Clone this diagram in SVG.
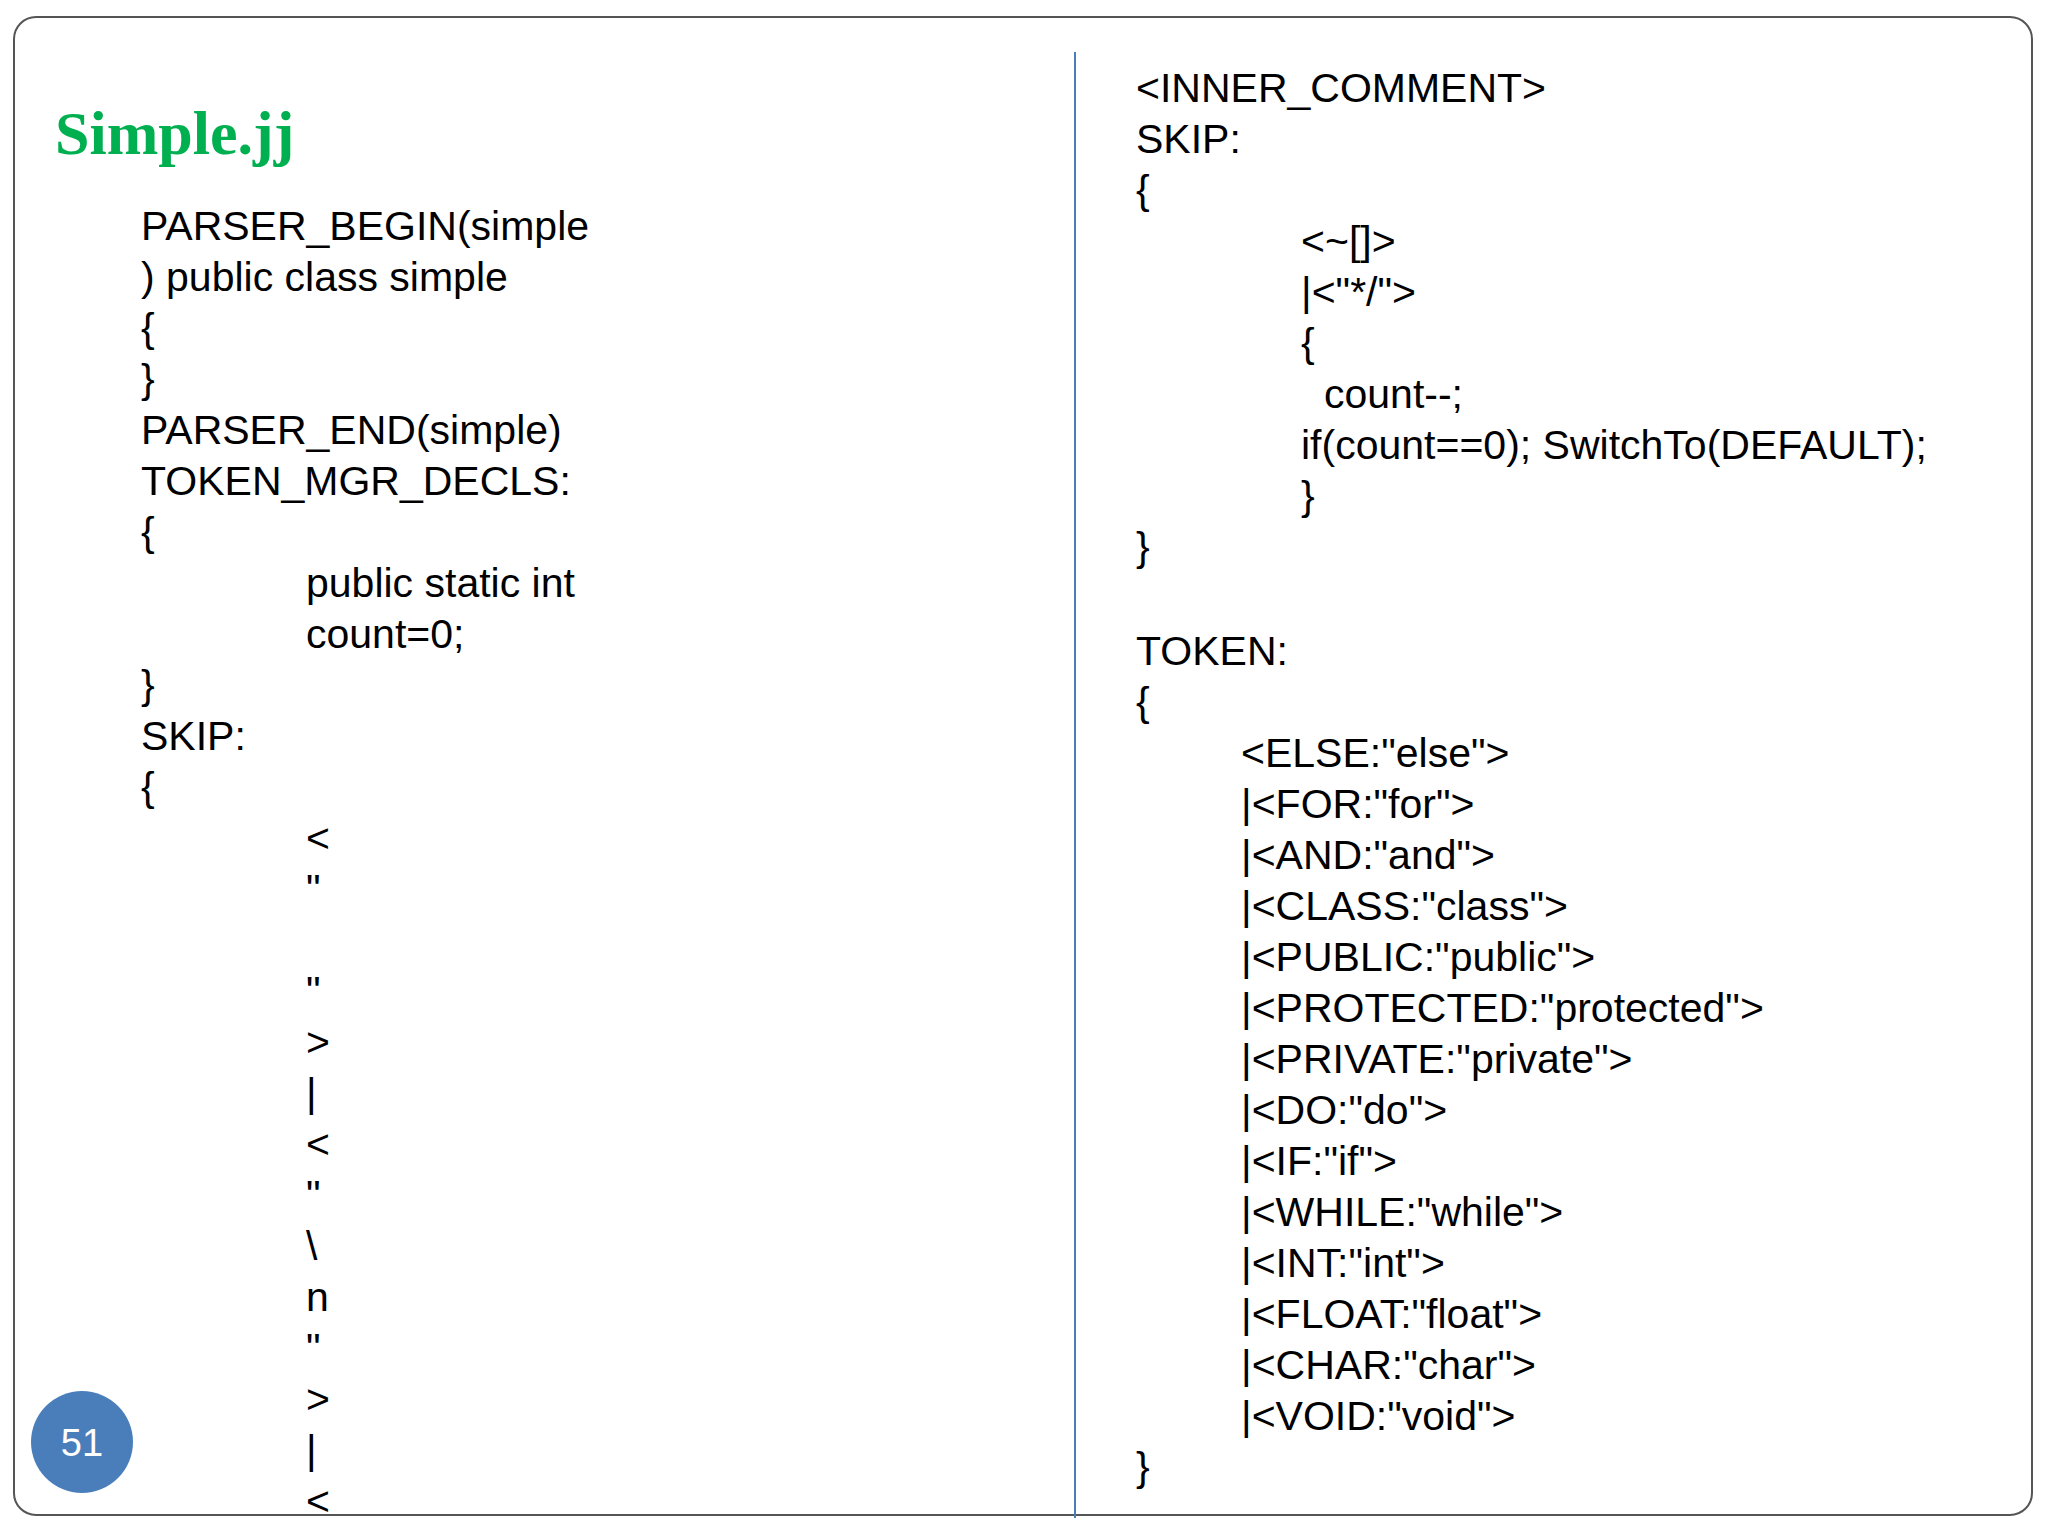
<svg xmlns="http://www.w3.org/2000/svg" width="2048" height="1536" viewBox="0 0 2048 1536">
<style>
.t{font-family:"Liberation Sans",Arial,sans-serif;font-size:41px;fill:#000}
</style>
<rect width="2048" height="1536" fill="#fff"/>
<rect x="14" y="17" width="2018" height="1498" rx="22" fill="none" stroke="#555" stroke-width="2"/>
<line x1="1075" y1="52" x2="1075" y2="1518" stroke="#4a7ebb" stroke-width="2"/>
<text x="55" y="154" font-family="Liberation Serif,serif" font-size="62" font-weight="bold" fill="#00b050">Simple.jj</text>
<g id="left" class="t">
<text class="t" x="141" y="240">PARSER_BEGIN(simple</text>
<text class="t" x="141" y="291">)  public class simple</text>
<text class="t" x="141" y="342">{</text>
<text class="t" x="141" y="393">}</text>
<text class="t" x="141" y="444">PARSER_END(simple)</text>
<text class="t" x="141" y="495">TOKEN_MGR_DECLS:</text>
<text class="t" x="141" y="546">{</text>
<text class="t" x="306" y="597">public static int</text>
<text class="t" x="306" y="648">count=0;</text>
<text class="t" x="141" y="699">}</text>
<text class="t" x="141" y="750">SKIP:</text>
<text class="t" x="141" y="801">{</text>
<text class="t" x="306" y="852">&lt;</text>
<text class="t" x="306" y="903">"</text>
<text class="t" x="306" y="1005">"</text>
<text class="t" x="306" y="1056">&gt;</text>
<text class="t" x="306" y="1107">|</text>
<text class="t" x="306" y="1158">&lt;</text>
<text class="t" x="306" y="1209">"</text>
<text class="t" x="306" y="1260">\</text>
<text class="t" x="306" y="1311">n</text>
<text class="t" x="306" y="1362">"</text>
<text class="t" x="306" y="1413">&gt;</text>
<text class="t" x="306" y="1464">|</text>
<text class="t" x="306" y="1515">&lt;</text>
</g>
<g id="right">
<text class="t" x="1136" y="102">&lt;INNER_COMMENT&gt;</text>
<text class="t" x="1136" y="153">SKIP:</text>
<text class="t" x="1136" y="204">{</text>
<text class="t" x="1301" y="255">&lt;~[]&gt;</text>
<text class="t" x="1301" y="306">|&lt;"*/"&gt;</text>
<text class="t" x="1301" y="357">{</text>
<text class="t" x="1324" y="408">count--;</text>
<text class="t" x="1301" y="459">if(count==0);  SwitchTo(DEFAULT);</text>
<text class="t" x="1301" y="510">}</text>
<text class="t" x="1136" y="561">}</text>
<text class="t" x="1136" y="665">TOKEN:</text>
<text class="t" x="1136" y="716">{</text>
<text class="t" x="1241" y="767">&lt;ELSE:"else"&gt;</text>
<text class="t" x="1241" y="818">|&lt;FOR:"for"&gt;</text>
<text class="t" x="1241" y="869">|&lt;AND:"and"&gt;</text>
<text class="t" x="1241" y="920">|&lt;CLASS:"class"&gt;</text>
<text class="t" x="1241" y="971">|&lt;PUBLIC:"public"&gt;</text>
<text class="t" x="1241" y="1022">|&lt;PROTECTED:"protected"&gt;</text>
<text class="t" x="1241" y="1073">|&lt;PRIVATE:"private"&gt;</text>
<text class="t" x="1241" y="1124">|&lt;DO:"do"&gt;</text>
<text class="t" x="1241" y="1175">|&lt;IF:"if"&gt;</text>
<text class="t" x="1241" y="1226">|&lt;WHILE:"while"&gt;</text>
<text class="t" x="1241" y="1277">|&lt;INT:"int"&gt;</text>
<text class="t" x="1241" y="1328">|&lt;FLOAT:"float"&gt;</text>
<text class="t" x="1241" y="1379">|&lt;CHAR:"char"&gt;</text>
<text class="t" x="1241" y="1430">|&lt;VOID:"void"&gt;</text>
<text class="t" x="1136" y="1481">}</text>
</g>
<g id="pagenum">
<circle cx="82" cy="1442" r="51" fill="#4a7ebb"/>
<text x="82" y="1456" text-anchor="middle" font-family="Liberation Sans,sans-serif" font-size="38" fill="#fff">51</text>
</g>
</svg>
